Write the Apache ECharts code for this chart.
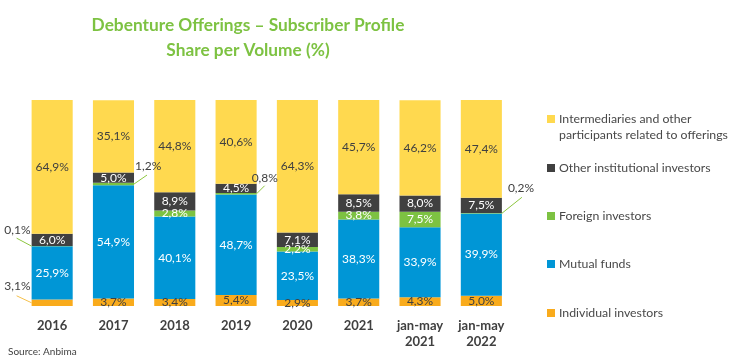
<!DOCTYPE html>
<html>
<head>
<meta charset="utf-8">
<script src="https://cdn.jsdelivr.net/npm/echarts@6/dist/echarts.min.js"></script>
<style>html,body{margin:0;padding:0;background:#fff;}#c{width:751px;height:361px;}</style>
</head>
<body>
<div id="c"></div>
<script>
const categories = ['2016','2017','2018','2019','2020','2021','jan-may\n2021','jan-may\n2022'];
const individual = [3.1,3.7,3.4,5.4,2.9,3.7,4.3,5.0];
const mutualFunds = [25.9,54.9,40.1,48.7,23.5,38.3,33.9,39.9];
const foreign = [0.1,1.2,2.8,0.8,2.2,3.8,7.5,0.2];
const otherInst = [6.0,5.0,8.9,4.5,7.1,8.5,8.0,7.5];
const intermediaries = [64.9,35.1,44.8,40.6,64.3,45.7,46.2,47.4];
const seriesNames = ['Individual investors','Mutual funds','Foreign investors','Other institutional investors','Intermediaries and other participants related to offerings'];

const FONT = 'Lato';
const BAR_GAP = 0.33;
const fmt = p => Number(p.value).toFixed(1).replace('.', ',') + '%';

// outside label styling (series index -> category index): label offset and leader-line start offset
const outsideLabels = {
  0: {0: {pos: 'left', dx: -1, dy: -17, lx: -15, ly: -7, line: '#F5C04A'}},
  2: {
    0: {pos: 'left', dx: -1, dy: -16, lx: -15, ly: -8, line: '#8DC63F'},
    1: {pos: 'right', dx: 1, dy: -18, lx: 13, ly: -9, line: '#8DC63F'},
    3: {pos: 'right', dx: -5, dy: -16, lx: 8, ly: -8, line: '#8DC63F'},
    7: {pos: 'right', dx: 6, dy: -25, lx: 20, ly: -16, line: '#8DC63F'}
  }
};

const colors = ['#F9AB1C','#0096D6','#7DC242','#404040','#FFD94F'];
const labelColors = ['#404040','#ffffff','#ffffff','#ffffff','#404040'];
const valuesList = [individual, mutualFunds, foreign, otherInst, intermediaries];

function buildData(values, sIdx) {
  return values.map((v, i) => {
    const o = outsideLabels[sIdx] && outsideLabels[sIdx][i];
    if (!o) return v;
    return {value: v, label: {position: o.pos, distance: 0, color: '#404040'}};
  });
}

const series = valuesList.map((vals, sIdx) => ({
  name: seriesNames[sIdx],
  type: 'bar',
  stack: 'total',
  barCategoryGap: (BAR_GAP * 100) + '%',
  itemStyle: {color: colors[sIdx]},
  label: {show: true, position: 'inside', formatter: fmt, color: labelColors[sIdx], fontFamily: FONT, fontSize: 12},
  labelLayout: function (params) {
    const o = outsideLabels[sIdx] && outsideLabels[sIdx][params.dataIndex];
    return o ? {dx: o.dx, dy: o.dy} : {};
  },
  emphasis: {disabled: true},
  data: buildData(vals, sIdx)
}));

// leader lines: anchored at middle of the small segment, on the bar edge
const leaderData = [];
Object.keys(outsideLabels).forEach(sk => {
  const sIdx = +sk;
  Object.keys(outsideLabels[sk]).forEach(ck => {
    const c = +ck;
    let base = 0;
    for (let k = 0; k < sIdx; k++) base += valuesList[k][c];
    const o = outsideLabels[sk][ck];
    leaderData.push({value: [c, base + valuesList[sIdx][c] / 2], o: o});
  });
});

series.push({
  type: 'custom',
  name: 'leaders',
  silent: true,
  z: 5,
  renderItem: function (params, api) {
    const item = leaderData[params.dataIndex];
    const o = item.o;
    const p = api.coord([api.value(0), api.value(1)]);
    const band = api.size([1, 0])[0];
    const half = band * (1 - BAR_GAP) / 2;
    const ex = o.pos === 'left' ? p[0] - half : p[0] + half;
    return {
      type: 'line',
      shape: {x1: ex + o.lx, y1: p[1] + o.ly, x2: ex, y2: p[1]},
      style: {stroke: o.line, lineWidth: 1}
    };
  },
  data: leaderData.map(d => d.value)
});

const legendY = [313, 264, 216, 168, 119];
const legends = seriesNames.map((n, i) => ({
  data: i === 4 ? [{name: n, icon: 'path://M0 0L8 0L8 8L0 8Z M0 24L8 24'}] : [n],
  left: 547,
  top: legendY[i] - 8,
  padding: 0,
  orient: 'vertical',
  icon: 'rect',
  itemWidth: 8,
  itemHeight: i === 4 ? 24 : 8,
  itemGap: 0,
  selectedMode: false,
  formatter: name => name === seriesNames[4] ? 'Intermediaries and other\nparticipants related to offerings' : name,
  textStyle: {color: '#484848', fontFamily: FONT, fontSize: 12.3, lineHeight: 16, padding: [0,0,0,-1]}
}));

const chart = echarts.init(document.getElementById('c'), null, {renderer: 'canvas'});
chart.setOption({
  animation: false,
  title: {
    text: 'Debenture Offerings – Subscriber Profile\nShare per Volume (%)',
    left: 243, top: 8, textAlign: 'center',
    textStyle: {color: '#7DC242', fontFamily: FONT, fontWeight: 'bold', fontSize: 17.3, lineHeight: 25}
  },
  legend: legends,
  grid: {left: 21.5, right: 239, top: 100, bottom: 55, containLabel: false},
  xAxis: {
    type: 'category', data: categories,
    axisLine: {show: false}, axisTick: {show: false},
    axisLabel: {color: '#404040', fontFamily: FONT, fontWeight: 'bold', fontSize: 13, lineHeight: 16, margin: 12, interval: 0}
  },
  yAxis: {type: 'value', min: 0, max: 100, show: false, splitLine: {show: false}},
  graphic: [{type: 'text', left: 8, top: 347, style: {text: 'Source: Anbima', fill: '#404040', font: '10px Lato'}}],
  series: series
});
</script>
</body>
</html>
